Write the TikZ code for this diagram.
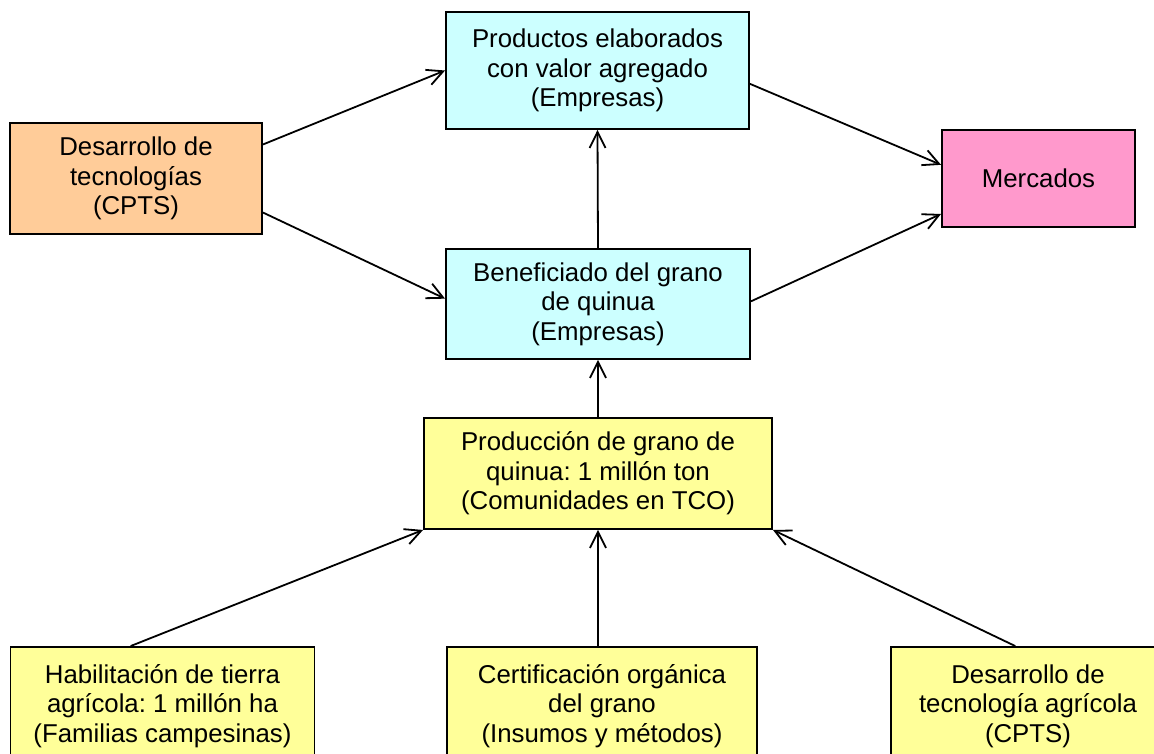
\documentclass[tikz,border=0pt]{standalone}
\usepackage{fontspec}
\setmainfont{Liberation Sans}
\usetikzlibrary{arrows.meta}
\frenchspacing
\definecolor{orangebox}{HTML}{FFCC99}
\definecolor{cyanbox}{HTML}{CCFFFF}
\definecolor{pinkbox}{HTML}{FF99CC}
\definecolor{yellowbox}{HTML}{FFFF99}
\tikzset{
  box/.style={draw=black, line width=1.9pt, align=center, inner sep=0pt,
    font=\fontsize{25.8}{29.5}\selectfont},
  conn/.style={line width=1.8pt, -{Straight Barb[length=16pt,width=16pt]}}
}
\begin{document}
\begin{tikzpicture}[x=1pt,y=-1pt]
\useasboundingbox (0,0) rectangle (1154,753);
\begin{scope}
\clip (0,0) rectangle (1154,753);
\node[box, fill=orangebox, minimum width=252pt, minimum height=111pt] (tec) at (136,178.5)
  {Desarrollo de\\tecnologías\\(CPTS)};
\node[box, fill=cyanbox, minimum width=303pt, minimum height=117pt] (prod) at (597.5,70.5)
  {Productos elaborados\\con valor agregado\\(Empresas)};
\node[box, fill=cyanbox, minimum width=304pt, minimum height=110pt] (ben) at (598,304)
  {Beneficiado del grano\\de quinua\\(Empresas)};
\node[box, fill=pinkbox, minimum width=193pt, minimum height=97pt] (merc) at (1038.5,178.5)
  {Mercados};
\node[box, fill=yellowbox, minimum width=348pt, minimum height=111pt] (pgr) at (598,473.5)
  {Producción de grano de\\quinua: 1 millón ton\\(Comunidades en TCO)};
\node[box, fill=yellowbox, minimum width=304pt, minimum height=118pt] (hab) at (162.5,706)
  {Habilitación de tierra\\agrícola: 1 millón ha\\(Familias campesinas)};
\node[box, fill=yellowbox, minimum width=310pt, minimum height=118pt] (cert) at (602,706)
  {Certificación orgánica\\del grano\\(Insumos y métodos)};
\node[box, fill=yellowbox, minimum width=274pt, minimum height=118pt] (agr) at (1028,706)
  {Desarrollo de\\tecnología agrícola\\(CPTS)};

\draw[conn] (tec.15) -- (prod.west);
\draw[conn] (tec.-15) -- (ben.178);
\draw[conn] (prod.-5) -- (merc.172);
\draw[conn] (ben.1.5) -- (merc.200);
\draw[conn] (ben.north) -- (prod.south);
\draw[conn] (pgr.north) -- (ben.south);
\draw[conn] (hab.118.5) -- (pgr.south west);
\draw[conn] (cert.north -| pgr.south) -- (pgr.south);
\draw[conn] (agr.102.4) -- (pgr.south east);
\end{scope}
\end{tikzpicture}
\end{document}
